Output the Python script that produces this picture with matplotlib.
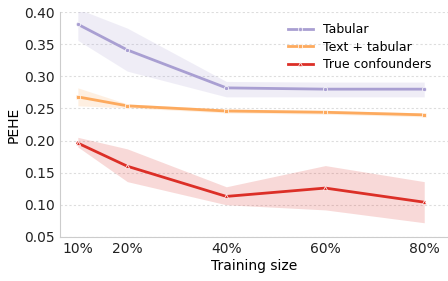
import numpy as np
import matplotlib
matplotlib.use("Agg")
import matplotlib.pyplot as plt

sizes = [10, 20, 40, 60, 80]
size_labels = ["10%", "20%", "40%", "60%", "80%"]

tab_mean = [0.381, 0.341, 0.282, 0.280, 0.280]
tab_low = [0.356, 0.308, 0.268, 0.268, 0.268]
tab_high = [0.405, 0.375, 0.292, 0.291, 0.291]

txt_mean = [0.268, 0.254, 0.246, 0.244, 0.240]
txt_low = [0.254, 0.251, 0.243, 0.241, 0.237]
txt_high = [0.282, 0.257, 0.249, 0.247, 0.243]

true_mean = [0.196, 0.160, 0.113, 0.126, 0.104]
true_low = [0.190, 0.136, 0.100, 0.092, 0.072]
true_high = [0.205, 0.187, 0.128, 0.161, 0.136]

fig = plt.figure(figsize=(4.48, 2.81), dpi=100)
ax = fig.add_axes([0.134, 0.157, 0.866, 0.80])

series = [
    ("Tabular", tab_mean, tab_low, tab_high, "#a99fd2", "o"),
    ("Text + tabular", txt_mean, txt_low, txt_high, "#fdaa5e", "s"),
    ("True confounders", true_mean, true_low, true_high, "#dc2f27", "^"),
]
for name, m, lo, hi, c, mk in series:
    ax.fill_between(sizes, lo, hi, color=c, alpha=0.18, linewidth=0)
    ax.plot(sizes, m, color=c, lw=2, marker=mk, markersize=3,
            markeredgecolor="white", markeredgewidth=0.5, label=name)

ax.set_xlim(6.4, 84.8)
ax.set_ylim(0.05, 0.40)
ax.set_xticks(sizes)
ax.set_xticklabels(size_labels)
ax.set_yticks(np.arange(0.05, 0.401, 0.05))
ax.set_yticklabels(["%.2f" % v for v in np.arange(0.05, 0.401, 0.05)])
ax.tick_params(length=0, labelsize=10, colors="#222222")
ax.grid(axis="y", linestyle=(0, (2, 2)), color="#dddddd", linewidth=0.8)
ax.set_axisbelow(True)
for s in ["top", "right"]:
    ax.spines[s].set_visible(False)
for s in ["left", "bottom"]:
    ax.spines[s].set_color("#cccccc")
ax.set_xlabel("Training size", fontsize=10, labelpad=2)
ax.set_ylabel("PEHE", fontsize=10, labelpad=3)
ax.legend(loc="upper right", frameon=False, fontsize=9, labelspacing=0.35,
          bbox_to_anchor=(0.985, 1.0), handlelength=2.0)

fig.savefig("out.png", dpi=100)
